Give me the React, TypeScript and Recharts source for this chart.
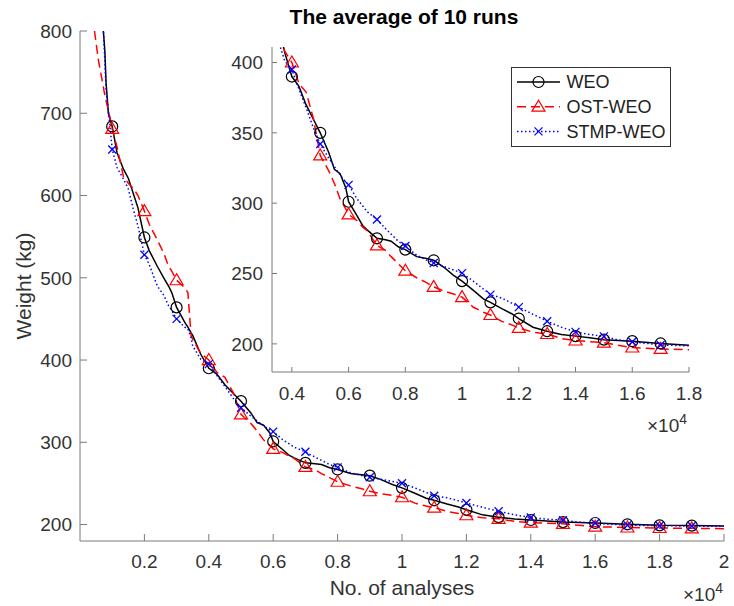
import { CartesianGrid, Label, Legend, Line, LineChart, XAxis, YAxis } from "recharts";

// number of analyses (x) and averaged best weight (kg) for each method
const analyses = [
  450, 570, 725, 770, 810, 880, 1000, 1150, 1350, 1500, 1650, 1800, 2000, 2150, 2400, 2600, 2750,
  2850, 3000, 3250, 3350, 3450, 3500, 3750, 4000, 4250, 4500, 4750, 5000, 5300, 5500, 5700, 5900,
  6000, 6300, 6500, 6650, 7000, 7300, 7500, 7750, 8000, 8400, 8750, 9000, 9350, 9700, 10000, 10400,
  10750, 11000, 11400, 11750, 12000, 12500, 13000, 13500, 14000, 14500, 15000, 15500, 16000, 17000,
  18000, 19000, 20000
];

const weoWeight = [
  1100, 900, 800, 777, 737, 700, 684, 652, 632, 621, 603, 585, 549, 533, 514, 500, 490,
  482, 464, 446, 440, 433, 430, 407, 390, 383, 370, 360, 350, 336, 324, 321, 311,
  301, 291, 284, 281, 275, 274, 273, 269, 267, 262, 260.6, 259.4, 254.6, 248.7, 244.6, 238,
  232, 229.5, 225, 221.4, 218, 211.8, 209, 206.6, 205.5, 204.3, 203, 202.4, 201.9, 200.3,
  199, 198.7, 198.3
];

const ostWeoWeight = [
  800, 765, 732, 722, 715, 704, 681, 659, 623, 615, 609, 600, 581, 565, 546, 530, 514,
  508, 497, 488, 482, 430, 425, 408, 400, 385, 379, 361, 334, 323, 314, 303, 296,
  292, 287.5, 283, 280.5, 270, 266.5, 262, 257, 252, 247, 243.5, 240.5, 237.5, 235.5, 233.2, 226,
  222.5, 220.5, 216, 213.5, 211.3, 208.3, 207, 203.8, 202.4, 201.5, 200.9, 199, 197.4, 196.4,
  195.8, 195.4, 195
];

const stmpWeoWeight = [
  1100, 900, 803, 765, 728, 705, 656, 634, 620, 608, 584, 563, 528, 516, 490, 479, 466,
  460, 450, 440, 438, 427, 417, 401, 395, 381, 368, 354, 342, 332, 326, 320, 315,
  313, 303, 298, 294, 288.4, 282, 278, 273, 269.5, 263, 259.5, 257.5, 255, 252.5, 250.3, 244.5,
  239, 235, 232.5, 229, 226.1, 221, 216.1, 211.8, 208.5, 206.6, 205.3, 202.8, 201.5, 199.2,
  198.6, 198.2, 197.8
];

const mainXTicks = [2000, 4000, 6000, 8000, 10000, 12000, 14000, 16000, 18000, 20000];
const mainYTicks = [200, 300, 400, 500, 600, 700, 800];
const insetXTicks = [4000, 6000, 8000, 10000, 12000, 14000, 16000, 18000];
const insetYTicks = [200, 250, 300, 350, 400];

const FONT = '"Liberation Sans", Arial, Helvetica, sans-serif';
const AXIS = "#7a7a7a";
const TEXT = "#333";

const series = [
  { key: "weo", name: "WEO", color: "#000000", dash: undefined, marker: "circle" },
  { key: "ost", name: "OST-WEO", color: "#ff0000", dash: "9 5", marker: "triangle" },
  { key: "stmp", name: "STMP-WEO", color: "#0000ff", dash: "1.5 2.5", marker: "cross" }
];

const data = analyses.map((x, i) => ({
  x,
  weo: weoWeight[i],
  ost: ostWeoWeight[i],
  stmp: stmpWeoWeight[i]
}));

const fmtX = (v: number) => String(+(v / 10000).toFixed(1));

function drawMarker(kind: string, cx: number, cy: number, color: string, key?: string) {
  if (kind === "circle") {
    return <circle key={key} cx={cx} cy={cy} r={5.5} fill="none" stroke={color} strokeWidth={1.2} />;
  }
  if (kind === "triangle") {
    return (
      <polygon
        key={key}
        points={`${cx},${cy - 6.5} ${cx - 6.5},${cy + 4.5} ${cx + 6.5},${cy + 4.5}`}
        fill="none"
        stroke={color}
        strokeWidth={1.2}
      />
    );
  }
  return (
    <g key={key} stroke={color} strokeWidth={1.3}>
      <line x1={cx - 4} y1={cy - 4} x2={cx + 4} y2={cy + 4} />
      <line x1={cx - 4} y1={cy + 4} x2={cx + 4} y2={cy - 4} />
    </g>
  );
}

function markerDot(kind: string, color: string, lastMarker: number) {
  return (props: any) => {
    const { cx, cy, payload, index } = props;
    const key = `${kind}-${index}`;
    const x = payload?.x ?? 0;
    if (cx == null || cy == null || x % 1000 !== 0 || x < 1000 || x > lastMarker) {
      return <g key={key} />;
    }
    return drawMarker(kind, cx, cy, color, key);
  };
}

function LegendBox() {
  return (
    <svg width={160} height={80} style={{ display: "block" }}>
      <rect x={0.5} y={0.5} width={159} height={79} fill="#fff" stroke="#333" strokeWidth={1} />
      {series.map((s, i) => {
        const y = 15 + i * 24.7;
        return (
          <g key={s.key}>
            <line x1={6} x2={49} y1={y} y2={y} stroke={s.color} strokeWidth={1.5} strokeDasharray={s.dash} />
            {drawMarker(s.marker, 27.5, y, s.color)}
            <text x={55.5} y={y} dy="0.36em" fontSize={18} fill="#222" fontFamily={FONT}>
              {s.name}
            </text>
          </g>
        );
      })}
    </svg>
  );
}

const exponentLabel = (dx: number, dy: number) => ({ viewBox }: any) => (
  <text
    x={viewBox.x + viewBox.width + dx}
    y={viewBox.y + dy}
    textAnchor="end"
    fontSize={19}
    fill={TEXT}
    fontFamily={FONT}
  >
    <tspan>×10</tspan>
    <tspan dy={-8} fontSize={14}>4</tspan>
  </text>
);

// title sits above the plot box: bottom axis y minus plot height (510) minus gap
const titleLabel = ({ viewBox }: any) => (
  <text
    x={viewBox.x + viewBox.width / 2 + 2}
    y={viewBox.y - 517}
    textAnchor="middle"
    fontSize={21}
    fontWeight="bold"
    fill="#000"
    fontFamily={FONT}
  >
    The average of 10 runs
  </text>
);

const xTitleLabel = ({ viewBox }: any) => (
  <text
    x={viewBox.x + viewBox.width / 2}
    y={viewBox.y + 54}
    textAnchor="middle"
    fontSize={21}
    fill={TEXT}
    fontFamily={FONT}
  >
    No. of analyses
  </text>
);

const yTitleLabel = ({ viewBox }: any) => {
  const cx = viewBox.x + 1;
  const cy = viewBox.y + viewBox.height / 2;
  return (
    <text
      x={cx}
      y={cy}
      transform={`rotate(-90 ${cx} ${cy})`}
      textAnchor="middle"
      fontSize={21}
      fill={TEXT}
      fontFamily={FONT}
    >
      Weight (kg)
    </text>
  );
};

const tickStyle = { fill: TEXT, fontSize: 19, fontFamily: FONT };

export default function App() {
  return (
    <div
      style={{
        position: "absolute",
        left: 0,
        top: 0,
        width: 734,
        height: 606,
        background: "#fff",
        fontFamily: FONT
      }}
    >
      <LineChart width={734} height={606} data={data} margin={{ top: 31, right: 10, bottom: 35, left: 30 }}>
        <XAxis
          xAxisId="b"
          type="number"
          dataKey="x"
          domain={[0, 20000]}
          ticks={mainXTicks}
          interval={0}
          allowDataOverflow
          height={30}
          tickSize={-7}
          tickMargin={21}
          stroke={AXIS}
          tick={tickStyle}
          tickFormatter={fmtX}
        >
          <Label content={xTitleLabel} />
          <Label content={exponentLabel(-1, 60)} />
          <Label content={titleLabel} />
        </XAxis>
        <XAxis
          xAxisId="t"
          orientation="top"
          type="number"
          dataKey="x"
          domain={[0, 20000]}
          ticks={mainXTicks}
          interval={0}
          allowDataOverflow
          height={0}
          tickSize={-7}
          stroke={AXIS}
          tick={false}
        />
        <YAxis
          yAxisId="l"
          type="number"
          domain={[180, 800]}
          ticks={mainYTicks}
          interval={0}
          allowDataOverflow
          width={50}
          tickSize={-7}
          tickMargin={15}
          stroke={AXIS}
          tick={tickStyle}
        >
          <Label content={yTitleLabel} />
        </YAxis>
        <YAxis
          yAxisId="r"
          orientation="right"
          type="number"
          domain={[180, 800]}
          ticks={mainYTicks}
          interval={0}
          allowDataOverflow
          width={0}
          tickSize={-7}
          stroke={AXIS}
          tick={false}
        />
        {series.map((s) => (
          <Line
            key={s.key}
            xAxisId="b"
            yAxisId="l"
            type="linear"
            dataKey={s.key}
            name={s.name}
            stroke={s.color}
            strokeWidth={1.5}
            strokeDasharray={s.dash}
            dot={markerDot(s.marker, s.color, 19000)}
            activeDot={false}
            isAnimationActive={false}
          />
        ))}
      </LineChart>

      <div style={{ position: "absolute", left: 200, top: 40 }}>
        <LineChart width={534} height={400} data={data} margin={{ top: 7, right: 45, bottom: 38, left: 22 }}>
          <CartesianGrid xAxisId="ib" yAxisId="il" fill="#fff" stroke="none" />
          <XAxis
            xAxisId="ib"
            type="number"
            dataKey="x"
            domain={[3300, 18000]}
            ticks={insetXTicks}
            interval={0}
            allowDataOverflow
            height={30}
            tickSize={-5}
            tickMargin={20}
            stroke={AXIS}
            tick={tickStyle}
            tickFormatter={fmtX}
          >
            <Label content={exponentLabel(-2, 60)} />
          </XAxis>
          <XAxis
            xAxisId="it"
            orientation="top"
            type="number"
            dataKey="x"
            domain={[3300, 18000]}
            ticks={insetXTicks}
            interval={0}
            allowDataOverflow
            height={0}
            tickSize={-5}
            stroke={AXIS}
            tick={false}
          />
          <YAxis
            yAxisId="il"
            type="number"
            domain={[180, 411]}
            ticks={insetYTicks}
            interval={0}
            allowDataOverflow
            width={50}
            tickSize={-5}
            tickMargin={14}
            stroke={AXIS}
            tick={tickStyle}
          />
          <YAxis
            yAxisId="ir"
            orientation="right"
            type="number"
            domain={[180, 411]}
            ticks={insetYTicks}
            interval={0}
            allowDataOverflow
            width={0}
            tickSize={-5}
            stroke={AXIS}
            tick={false}
          />
          {series.map((s) => (
            <Line
              key={s.key}
              xAxisId="ib"
              yAxisId="il"
              type="linear"
              dataKey={s.key}
              name={s.name}
              stroke={s.color}
              strokeWidth={1.5}
              strokeDasharray={s.dash}
              dot={markerDot(s.marker, s.color, 17000)}
              activeDot={false}
              isAnimationActive={false}
            />
          ))}
          <Legend
            layout="horizontal"
            verticalAlign="middle"
            align="center"
            wrapperStyle={{ left: 311, top: 27, width: 160, height: 80 }}
            content={() => <LegendBox />}
          />
        </LineChart>
      </div>
    </div>
  );
}
